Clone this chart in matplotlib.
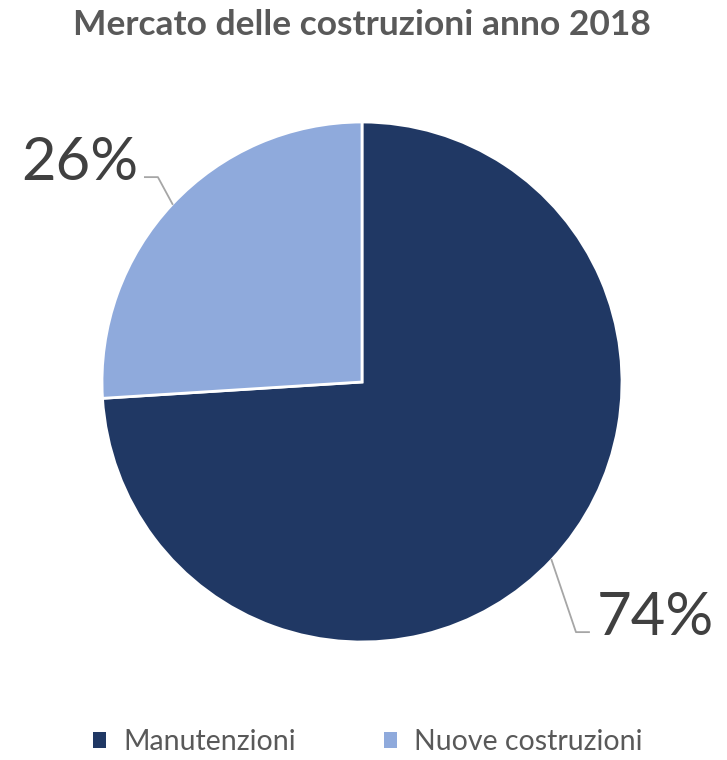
import numpy as np
import matplotlib
matplotlib.use("Agg")
import matplotlib.pyplot as plt
from matplotlib.patches import Patch

plt.rcParams['font.family'] = ['Lato', 'DejaVu Sans']

# dati
categorie = ['Manutenzioni', 'Nuove costruzioni']
quote = [74, 26]
colori = ['#203864', '#8FAADC']
titolo = 'Mercato delle costruzioni anno 2018'

fig = plt.figure(figsize=(7.27, 7.6), dpi=100)
# asse quadrato centrato sulla torta (centro ~ 362,382 px, raggio ~260 px)
ax = fig.add_axes([102 / 727, 118 / 760, 520 / 727, 520 / 760])
wedges, _ = ax.pie(quote, colors=colori, startangle=90, counterclock=False,
                   radius=1, wedgeprops=dict(edgecolor='white', linewidth=2))
ax.set_xlim(-1, 1)
ax.set_ylim(-1, 1)
ax.set_aspect('equal')
ax.axis('off')

# etichette percentuali con linee guida
grigio = '#A6A6A6'
for w, q in zip(wedges, quote):
    ang = np.deg2rad((w.theta1 + w.theta2) / 2)
    ex, ey = np.cos(ang), np.sin(ang)
    if ex < 0:
        cx, cy = -0.785, 0.788
        ax.plot([ex, cx, cx - 0.05], [ey, cy, cy], color=grigio, lw=1.3, clip_on=False)
        ax.text(-0.862, 0.777, f'{q}%', ha='right', va='baseline', fontsize=43,
                color='#404040')
    else:
        cx, cy = 0.823, -0.962
        ax.plot([ex, cx, cx + 0.05], [ey, cy, cy], color=grigio, lw=1.3, clip_on=False)
        ax.text(0.904, -0.973, f'{q}%', ha='left', va='baseline', fontsize=43,
                color='#404040')

fig.text(362 / 727, 1 - 25 / 760, titolo, ha='center', va='center',
         fontsize=25.5, fontweight='bold', color='#595959')

handles = [Patch(facecolor=c, edgecolor='none') for c in colori]
fig.legend(handles, categorie, loc='center', bbox_to_anchor=(368 / 727, 1 - 742 / 760),
           ncol=2, frameon=False, fontsize=20.5, labelcolor='#595959',
           handlelength=0.45, handleheight=0.45, handletextpad=0.6, columnspacing=3.1)

fig.savefig('out.png', dpi=100, facecolor='white')
